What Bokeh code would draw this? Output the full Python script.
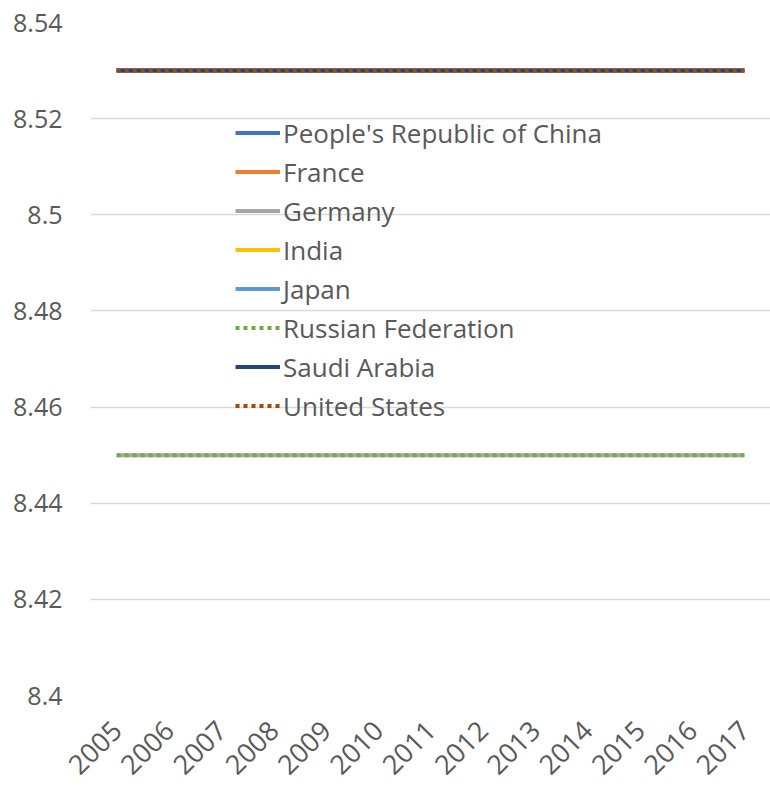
import math
from bokeh.plotting import figure
from bokeh.models import Range1d, FixedTicker, NumeralTickFormatter, Legend, LegendItem
from bokeh.embed import file_html
from bokeh.resources import INLINE

# Years on the category axis
years = ["2005", "2006", "2007", "2008", "2009", "2010", "2011",
         "2012", "2013", "2014", "2015", "2016", "2017"]

# Series values per country
china = [8.53, 8.53, 8.53, 8.53, 8.53, 8.53, 8.53, 8.53, 8.53, 8.53, 8.53, 8.53, 8.53]
france = [8.53, 8.53, 8.53, 8.53, 8.53, 8.53, 8.53, 8.53, 8.53, 8.53, 8.53, 8.53, 8.53]
germany = [8.45, 8.45, 8.45, 8.45, 8.45, 8.45, 8.45, 8.45, 8.45, 8.45, 8.45, 8.45, 8.45]
india = [8.53, 8.53, 8.53, 8.53, 8.53, 8.53, 8.53, 8.53, 8.53, 8.53, 8.53, 8.53, 8.53]
japan = [8.53, 8.53, 8.53, 8.53, 8.53, 8.53, 8.53, 8.53, 8.53, 8.53, 8.53, 8.53, 8.53]
russia = [8.45, 8.45, 8.45, 8.45, 8.45, 8.45, 8.45, 8.45, 8.45, 8.45, 8.45, 8.45, 8.45]
saudi = [8.53, 8.53, 8.53, 8.53, 8.53, 8.53, 8.53, 8.53, 8.53, 8.53, 8.53, 8.53, 8.53]
usa = [8.53, 8.53, 8.53, 8.53, 8.53, 8.53, 8.53, 8.53, 8.53, 8.53, 8.53, 8.53, 8.53]

# Y axis tick values
y_ticks = [8.4, 8.42, 8.44, 8.46, 8.48, 8.5, 8.52, 8.54]

series = [
    ("People's Republic of China", china, "#4472C4", "solid"),
    ("France", france, "#ED7D31", "solid"),
    ("Germany", germany, "#A5A5A5", "solid"),
    ("India", india, "#FFC000", "solid"),
    ("Japan", japan, "#5B9BD5", "solid"),
    ("Russian Federation", russia, "#70AD47", "4 4"),
    ("Saudi Arabia", saudi, "#264478", "solid"),
    ("United States", usa, "#9E480E", "4 4"),
]

FONT = "Open Sans"
TEXT = "#595959"
GRID = "#D9D9D9"

p = figure(
    x_range=years,
    y_range=Range1d(8.4, 8.54),
    width=770, height=786,
    output_backend="svg",
    toolbar_location=None,
    min_border_left=90, min_border_right=0,
    min_border_top=22, min_border_bottom=88,
)
p.outline_line_color = None
p.background_fill_color = "white"
p.border_fill_color = "white"

# grid
p.xgrid.grid_line_color = None
p.ygrid.grid_line_color = GRID
p.ygrid.grid_line_width = 1.5

# y axis
p.yaxis.ticker = FixedTicker(ticks=y_ticks)
p.yaxis.formatter = NumeralTickFormatter(format="0.[00]")
p.yaxis.axis_line_color = None
p.yaxis.major_tick_line_color = None
p.yaxis.minor_tick_line_color = None
p.yaxis.major_label_standoff = 22
p.yaxis.major_label_text_font = FONT
p.yaxis.major_label_text_font_size = "25px"
p.yaxis.major_label_text_color = TEXT

# x axis
p.xaxis.axis_line_color = None
p.xaxis.major_tick_line_color = None
p.xaxis.minor_tick_line_color = None
p.xaxis.major_label_orientation = math.pi / 4
p.xaxis.major_label_standoff = 24
p.xaxis.major_label_text_font = FONT
p.xaxis.major_label_text_font_size = "27px"
p.xaxis.major_label_text_color = TEXT

items = []
for name, vals, color, dash in series:
    r = p.line(years, vals, line_color=color, line_width=4, line_dash=dash,
               line_cap="butt")
    items.append(LegendItem(label=name, renderers=[r]))

legend = Legend(
    items=items,
    location=(145, 270),
    background_fill_alpha=0,
    border_line_alpha=0,
    label_text_font=FONT,
    label_text_font_size="26px",
    label_text_color=TEXT,
    glyph_width=45,
    glyph_height=39,
    label_height=39,
    spacing=0,
    padding=0,
    margin=0,
    label_standoff=3,
)
p.add_layout(legend)

open("out.html", "w").write(file_html(p, INLINE))
